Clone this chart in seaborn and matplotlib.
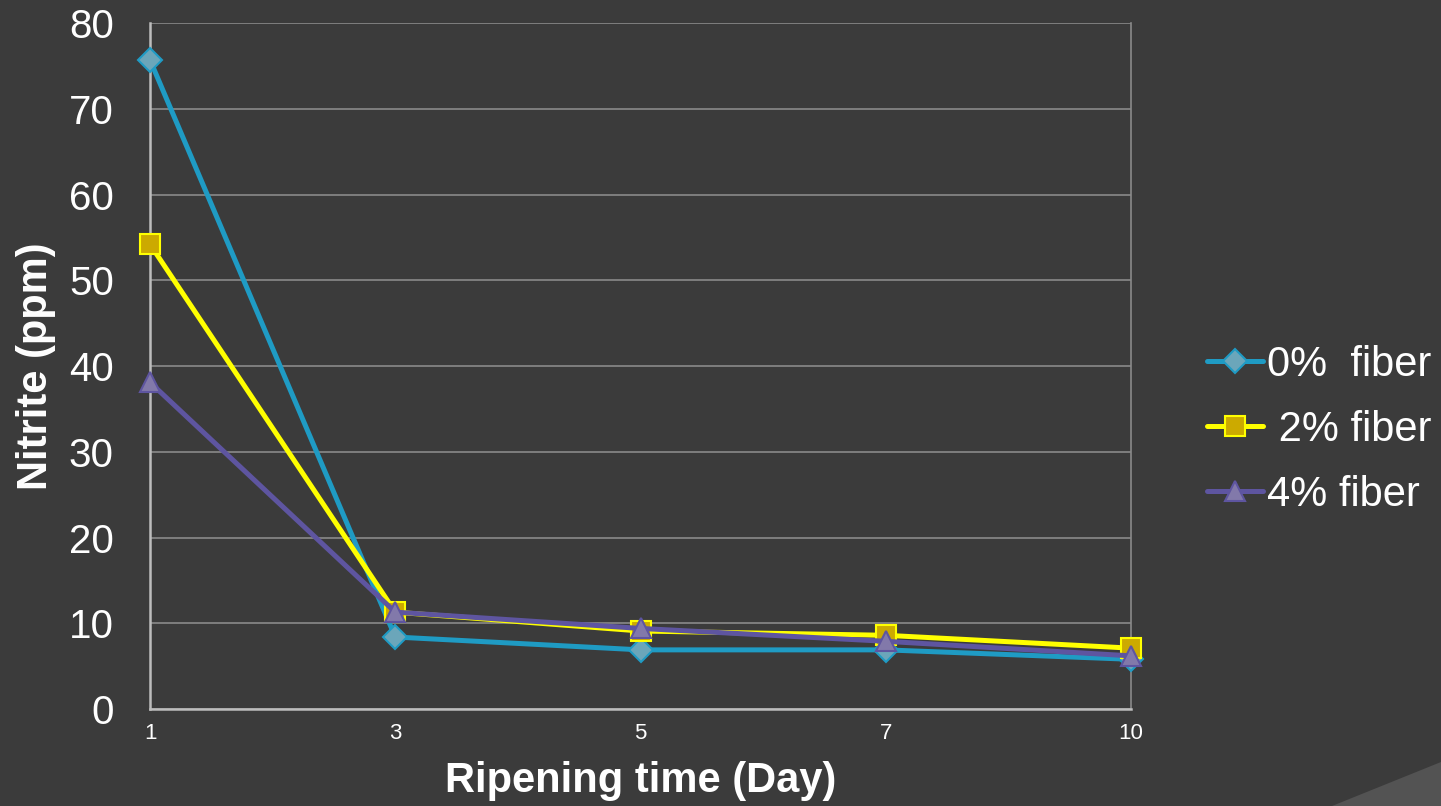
import matplotlib
matplotlib.use("Agg")
import matplotlib.pyplot as plt
import seaborn as sns
import pandas as pd
from matplotlib.patches import Polygon

days = ["1", "3", "5", "7", "10"]
fiber_0 = [75.7, 8.4, 6.9, 6.9, 5.8]
fiber_2 = [54.2, 11.3, 9.1, 8.6, 7.1]
fiber_4 = [38.1, 11.3, 9.4, 7.9, 6.2]
labels = ["0%  fiber", " 2% fiber", "4% fiber"]

sns.set_theme(style="dark")
plt.rcParams['font.family'] = ['Liberation Sans', 'DejaVu Sans']

bg = "#3b3b3b"
fig = plt.figure(figsize=(14.41, 8.06), dpi=100, facecolor=bg)
ax = fig.add_axes([0.1041, 0.1203, 0.6808, 0.8511])
ax.set_facecolor(bg)

# decorative corner shape
fig.patches.append(Polygon([[1332/1441, 0], [1.0, 0], [1.0, (806-762)/806]],
                           closed=True, transform=fig.transFigure,
                           facecolor="#535353", edgecolor="none", zorder=0))

rows = []
for lab, vals in zip(labels, [fiber_0, fiber_2, fiber_4]):
    for i, (d, v) in enumerate(zip(days, vals)):
        rows.append({"pos": i, "day": d, "value": v, "series": lab})
df = pd.DataFrame(rows)

styles = {
    labels[0]: dict(color="#1f9bc4", marker="D", mfc="#6ba6ba", mec="#1f9bc4", ms=12),
    labels[1]: dict(color="#ffff00", marker="s", mfc="#ccaa00", mec="#ffff00", ms=14),
    labels[2]: dict(color="#5e55a0", marker="^", mfc="#8279aa", mec="#5e55a0", ms=15),
}
for lab in labels:
    st = styles[lab]
    sns.lineplot(data=df[df.series == lab], x="pos", y="value", ax=ax,
                 color=st["color"], lw=3.6, marker=st["marker"],
                 markerfacecolor=st["mfc"], markeredgecolor=st["mec"],
                 markeredgewidth=1.5, markersize=st["ms"], label=lab,
                 clip_on=False, zorder=5)

ax.set_xlim(0, 4)
ax.set_ylim(0, 80)
ax.set_xticks(range(len(days)))
ax.set_xticklabels(days)
ax.set_yticks(range(0, 81, 10))
ax.grid(axis="y", color="#8a8a8a", lw=1.2)
ax.grid(axis="x", visible=False)
ax.spines["top"].set_visible(False)
ax.spines["right"].set_visible(True)
ax.spines["right"].set_color("#8a8a8a")
ax.spines["right"].set_linewidth(1.2)
for s in ["left", "bottom"]:
    ax.spines[s].set_visible(True)
    ax.spines[s].set_color("#bdbdbd")
    ax.spines[s].set_linewidth(1.8)

ax.tick_params(axis="y", labelsize=29, labelcolor="white", pad=26, length=0)
ax.tick_params(axis="x", labelsize=16, labelcolor="white", pad=10, length=0)
ax.set_xlabel("Ripening time (Day)", fontsize=30, fontweight="bold", color="white", labelpad=12)
ax.set_ylabel("Nitrite (ppm)", fontsize=30, fontweight="bold", color="white", labelpad=9)

leg = ax.legend(loc="center left", bbox_to_anchor=(1.060, 0.4067), frameon=False,
                fontsize=30, labelcolor="white", handlelength=1.35, handletextpad=0.1,
                labelspacing=0.6, borderaxespad=0)

fig.savefig("out.png", dpi=100, facecolor=bg)
